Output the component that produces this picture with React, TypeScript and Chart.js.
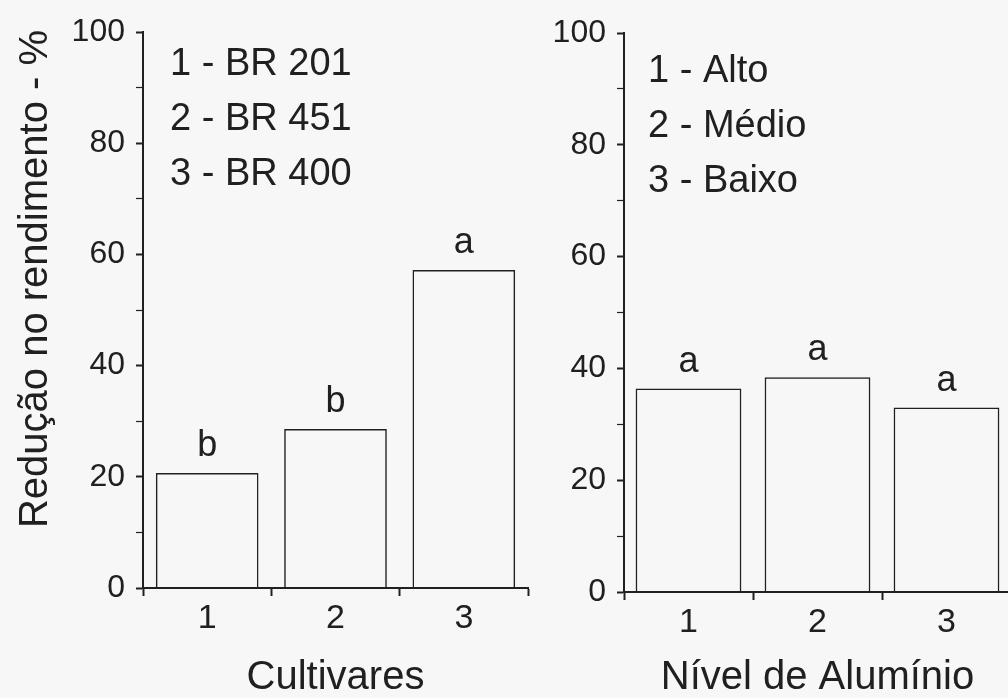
import React, { useEffect, useRef } from "react";
import { Chart, registerables } from "chart.js";

Chart.register(...registerables);

// ---- Data ----
const cultivarCategories = ["1", "2", "3"];
const cultivarValues = [20.7, 28.6, 57.2];
const cultivarLetters = ["b", "b", "a"];
const cultivarLegend = ["1 - BR 201", "2 - BR 451", "3 - BR 400"];

const aluminioCategories = ["1", "2", "3"];
const aluminioValues = [36.4, 38.4, 33.0];
const aluminioLetters = ["a", "a", "a"];
const aluminioLegend = ["1 - Alto", "2 - Médio", "3 - Baixo"];

const yTickValues = [0, 20, 40, 60, 80, 100];

const FONT = "'Liberation Sans', Arial, sans-serif";
const INK = "#202020";
const BG = "#f7f7f7";

type PanelCfg = {
  categories: string[];
  values: number[];
  letters: string[];
  legend: string[];
  xTitle: string;
  yTitle?: string;
  yAxisWidth: number;
  xAxisHeight: number;
  padTop: number;
  padRight: number;
  legendX: number;
  legendY: number;
  barPct: number;
};

function makeChart(canvas: HTMLCanvasElement, cfg: PanelCfg) {
  const annot = {
    id: "annot",
    afterDatasetsDraw(chart: any) {
      const ctx = chart.ctx;
      ctx.save();
      ctx.fillStyle = INK;
      // significance letters above bars
      ctx.font = `36px ${FONT}`;
      ctx.textAlign = "center";
      ctx.textBaseline = "alphabetic";
      const meta = chart.getDatasetMeta(0);
      meta.data.forEach((bar: any, i: number) => {
        ctx.fillText(cfg.letters[i], bar.x, bar.y - 17);
      });
      // legend text
      ctx.font = `38px ${FONT}`;
      ctx.textAlign = "left";
      cfg.legend.forEach((t, i) => {
        ctx.fillText(t, cfg.legendX, cfg.legendY + i * 55);
      });
      // rotated y-axis title
      if (cfg.yTitle) {
        ctx.translate(36, 279);
        ctx.rotate(-Math.PI / 2);
        ctx.font = `40px ${FONT}`;
        ctx.textAlign = "center";
        ctx.textBaseline = "middle";
        ctx.fillText(cfg.yTitle, 0, 0);
      }
      ctx.restore();
    },
  };

  return new Chart(canvas, {
    type: "bar",
    data: {
      labels: cfg.categories,
      datasets: [
        {
          data: cfg.values,
          backgroundColor: "rgba(0,0,0,0)",
          borderColor: INK,
          borderWidth: 1.5,
          barPercentage: cfg.barPct,
          categoryPercentage: 1.0,
        },
      ],
    },
    options: {
      responsive: false,
      animation: false,
      layout: { padding: { top: cfg.padTop, right: cfg.padRight, left: 0, bottom: 0 } },
      plugins: { legend: { display: false }, tooltip: { enabled: false } },
      scales: {
        x: {
          grid: {
            offset: true,
            drawOnChartArea: false,
            drawTicks: true,
            tickLength: 8,
            tickColor: INK,
            tickWidth: 2,
          },
          border: { color: INK, width: 2 },
          ticks: { font: { family: FONT, size: 34 }, color: INK, padding: 2 },
          title: {
            display: true,
            text: cfg.xTitle,
            font: { family: FONT, size: 40, lineHeight: 1 },
            color: INK,
            padding: 0,
          },
          afterFit: (s: any) => {
            s.height = cfg.xAxisHeight;
          },
        },
        y: {
          min: 0,
          max: 100,
          ticks: {
            stepSize: 10,
            autoSkip: false,
            font: { family: FONT, size: 32 },
            color: INK,
            padding: 11,
            callback: (v: any) => (yTickValues.includes(Number(v)) ? String(v) : ""),
          },
          grid: {
            drawOnChartArea: false,
            drawTicks: true,
            tickLength: 7,
            tickColor: INK,
            tickWidth: (c: any) => (c.tick && c.tick.value % 20 === 0 ? 2 : 1.2),
          },
          border: { color: INK, width: 2 },
          afterFit: (s: any) => {
            s.width = cfg.yAxisWidth;
          },
        },
      },
    },
    plugins: [annot],
  });
}

export default function App() {
  const leftRef = useRef<HTMLCanvasElement>(null);
  const rightRef = useRef<HTMLCanvasElement>(null);

  useEffect(() => {
    const left = makeChart(leftRef.current!, {
      categories: cultivarCategories,
      values: cultivarValues,
      letters: cultivarLetters,
      legend: cultivarLegend,
      xTitle: "Cultivares",
      yTitle: "Redução no rendimento - %",
      yAxisWidth: 143,
      xAxisHeight: 110,
      padTop: 32,
      padRight: 12,
      legendX: 170,
      legendY: 75,
      barPct: 0.8,
    });
    const right = makeChart(rightRef.current!, {
      categories: aluminioCategories,
      values: aluminioValues,
      letters: aluminioLetters,
      legend: aluminioLegend,
      xTitle: "Nível de Alumínio",
      yAxisWidth: 84,
      xAxisHeight: 106,
      padTop: 33,
      padRight: 9,
      legendX: 108,
      legendY: 82,
      barPct: 0.82,
    });
    return () => {
      left.destroy();
      right.destroy();
    };
  }, []);

  return (
    <div
      style={{
        position: "fixed",
        left: 0,
        top: 0,
        width: 1008,
        height: 698,
        overflow: "hidden",
        background: BG,
      }}
    >
      <canvas ref={leftRef} width={540} height={698} style={{ position: "absolute", left: 0, top: 0 }} />
      <canvas ref={rightRef} width={480} height={698} style={{ position: "absolute", left: 540, top: 0 }} />
    </div>
  );
}
